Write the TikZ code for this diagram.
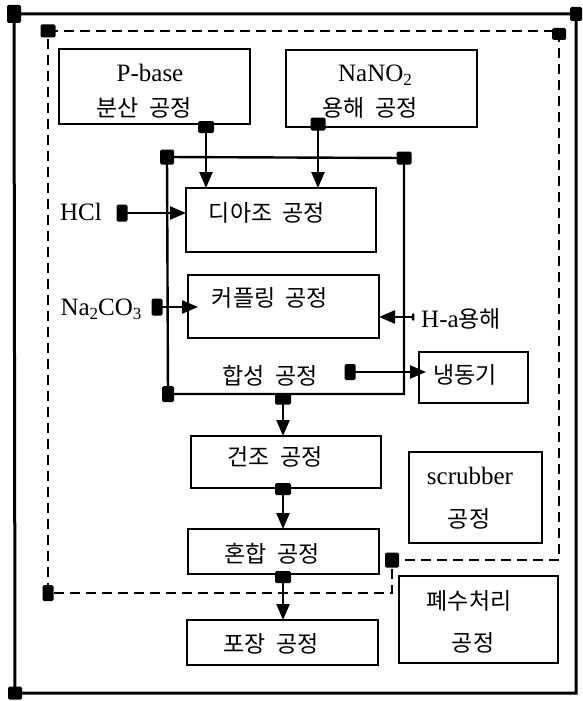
\documentclass[tikz,border=0pt]{standalone}
\usepackage{fontspec}
\setmainfont{Liberation Serif}
\newfontfamily\kr[WordSpace=2.0]{Noto Sans CJK KR}
\usetikzlibrary{arrows.meta}
\newcommand\sbs[1]{\raisebox{-0.35ex}{\fontsize{17}{17}\selectfont #1}}
\begin{document}
\begin{tikzpicture}[x=1pt,y=-1pt,
  box/.style={draw, line width=2.8pt, rectangle, inner sep=0pt, outer sep=0pt},
  mk/.style={fill=black, draw=none, rectangle, inner sep=0pt, outer sep=0pt, rounded corners=1.5pt},
  kt/.style={font=\kr\fontsize{23}{26}\selectfont, inner sep=0pt},
  lt/.style={font=\fontsize{25}{28}\selectfont, inner sep=0pt},
  ln/.style={line width=2.4pt},
  arr/.style={line width=2.4pt, -{Triangle[length=16pt,width=13pt]}},
  dsh/.style={line width=2.6pt, dash pattern=on 10pt off 6pt}]
\useasboundingbox (0,0) rectangle (583,701);

% outer frame
\node[mk, minimum width=14pt, minimum height=18pt] (otl) at (14,14) {};
\node[mk, minimum width=12pt, minimum height=14pt] (otr) at (576,14) {};
\node[mk, minimum width=14pt, minimum height=13pt] (obl) at (15,693) {};
\coordinate (obr) at (576,693);
\draw[line width=3pt] (otl.center) -- (otr.center) -- (obr) -- (obl.center) -- cycle;

% dashed frame
\node[mk, minimum width=15pt, minimum height=13pt] (dtl) at (48,31) {};
\node[mk, minimum width=14pt, minimum height=12pt] (dtr) at (559,34) {};
\coordinate (dtrc) at (559,31);
\coordinate (drl) at (559,560);
\node[mk, minimum width=14pt, minimum height=15pt] (dmid) at (392,560) {};
\coordinate (dml) at (392,593);
\node[mk, minimum width=11pt, minimum height=16pt] (dbl) at (48,593) {};
\draw[dsh] (dtl.center) -- (dtrc) -- (drl) -- (dmid.center) -- (dml) -- (dbl.center) -- cycle;

% top boxes
\node[box, minimum width=191pt, minimum height=75pt] (pbase) at (154.5,86.5) {};
\node[lt] (pbT1) at (150,73) {P-base};
\node[kt] (pbT2) at (144,108) {분산 공정};
\node[box, minimum width=191pt, minimum height=77pt] (nano) at (381.5,88.5) {};
\node[lt] (naT1) at (375,75) {NaNO\sbs{2}};
\node[kt] (naT2) at (370,108) {용해 공정};

% synthesis frame
\node[mk, minimum width=14pt, minimum height=15pt] (stl) at (167,157) {};
\node[mk, minimum width=15pt, minimum height=13pt] (str) at (404,158) {};
\node[mk, minimum width=12pt, minimum height=16pt] (sbl) at (168,394) {};
\coordinate (sbr) at (404,394);
\draw[ln] (stl.center) -- (str.center) -- (sbr) -- (sbl.center) -- cycle;
\node[kt] (synT) at (270,376) {합성 공정};

% diazo & coupling
\node[box, minimum width=190pt, minimum height=64pt] (diazo) at (281,220) {};
\node[kt] (diazoT) at (267,213) {디아조 공정};
\node[box, minimum width=191pt, minimum height=63pt] (coup) at (283.5,306.5) {};
\node[kt] (coupT) at (270,298) {커플링 공정};

% markers under top boxes
\node[mk, minimum width=16pt, minimum height=12pt] (pmk) at (206,127) {};
\node[mk, minimum width=15pt, minimum height=13pt] (namk) at (318,124) {};
\draw[arr] (pmk.center) -- (pmk.center |- diazo.north);
\draw[arr] (namk.center) -- (namk.center |- diazo.north);

% inputs
\node[lt] (hclT) at (81,212) {HCl};
\node[mk, minimum width=11pt, minimum height=17pt] (hclmk) at (122,213) {};
\draw[arr] (hclmk.center) -- (diazo.west |- hclmk.center);
\node[lt] (na2T) at (101,309) {Na\sbs{2}CO\sbs{3}};
\node[mk, minimum width=11pt, minimum height=17pt] (na2mk) at (157,307) {};
\draw[arr] (na2mk.center) -- ([xshift=10pt]coup.west |- na2mk.center);
\node[kt, anchor=west] (haT) at (421,319) {{\fontsize{25}{28}\selectfont\rmfamily H-a}용해};
\node[mk, minimum width=2.5pt, minimum height=8pt] (hamk) at (413,317) {};
\draw[arr] (hamk.center) -- (coup.east |- hamk.center);

% freezer
\node[box, minimum width=109pt, minimum height=51pt] (frz) at (473.5,377.5) {};
\node[kt] (frT) at (465,375) {냉동기};
\node[mk, minimum width=11pt, minimum height=16pt] (frmk) at (350,372) {};
\draw[arr] (frmk.center) -- ([xshift=7pt]frz.west |- frmk.center);

% lower chain
\node[mk, minimum width=16pt, minimum height=11pt] (synmk) at (283,399) {};
\node[box, minimum width=190pt, minimum height=52pt] (dry) at (286,462) {};
\node[kt] (dryT) at (275,457) {건조 공정};
\draw[arr] (synmk.center) -- (synmk.center |- dry.north);
\node[mk, minimum width=16pt, minimum height=12pt] (drymk) at (283,489) {};
\node[box, minimum width=191pt, minimum height=45pt] (mix) at (283.5,551.5) {};
\node[kt] (mixT) at (272,554) {혼합 공정};
\draw[arr] (drymk.center) -- (drymk.center |- mix.north);
\node[mk, minimum width=16pt, minimum height=12pt] (mixmk) at (283,577) {};
\node[box, minimum width=191pt, minimum height=45pt] (pack) at (282.5,642.5) {};
\node[kt] (packT) at (271,644) {포장 공정};
\draw[arr] (mixmk.center) -- (mixmk.center |- pack.north);

% scrubber & waste
\node[box, minimum width=133pt, minimum height=91pt] (scr) at (475.5,497.5) {};
\node[lt] (scT1) at (470,476) {scrubber};
\node[kt] (scT2) at (469,519) {공정};
\node[box, minimum width=159pt, minimum height=87pt] (wst) at (478.5,619.5) {};
\node[kt] (wsT1) at (469,601) {폐수처리};
\node[kt] (wsT2) at (473,643) {공정};
\end{tikzpicture}
\end{document}
